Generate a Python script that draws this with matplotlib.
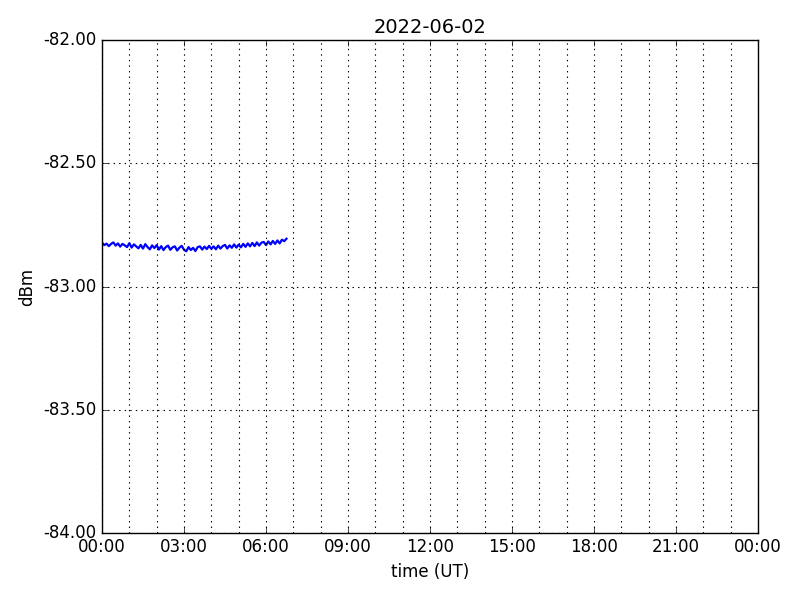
import matplotlib
matplotlib.use("Agg")
import matplotlib.pyplot as plt
import matplotlib.dates as mdates
from matplotlib.ticker import FormatStrFormatter, MultipleLocator
import datetime as dt

plt.style.use("classic")

title = "2022-06-02"
start = dt.datetime(2022, 6, 2, 0, 0)
step_minutes = 5
dbm = [
    -82.822, -82.832, -82.826, -82.836, -82.827, -82.821, -82.834, -82.825,
    -82.838, -82.827, -82.833, -82.840, -82.824, -82.842, -82.829, -82.837,
    -82.845, -82.831, -82.846, -82.828, -82.840, -82.849, -82.833, -82.844,
    -82.832, -82.850, -82.836, -82.852, -82.840, -82.834, -82.851, -82.841,
    -82.837, -82.854, -82.842, -82.835, -82.851, -82.857, -82.840, -82.852,
    -82.843, -82.856, -82.840, -82.837, -82.850, -82.838, -82.848, -82.835,
    -82.847, -82.837, -82.849, -82.834, -82.846, -82.836, -82.831, -82.846,
    -82.833, -82.843, -82.829, -82.842, -82.830, -82.841, -82.827, -82.839,
    -82.825, -82.837, -82.823, -82.836, -82.821, -82.834, -82.822, -82.819,
    -82.832, -82.817, -82.829, -82.815, -82.827, -82.813, -82.825, -82.810,
    -82.816, -82.806,
]
times = [start + dt.timedelta(minutes=step_minutes * i) for i in range(len(dbm))]

fig = plt.figure(figsize=(8, 6), dpi=100, facecolor="white")
ax = fig.add_axes([0.1275, 0.112, 0.82, 0.821])
ax.plot(times, dbm, color="blue", linewidth=1.6)

ax.set_xlim(start, start + dt.timedelta(days=1))
ax.set_ylim(-84.0, -82.0)
ax.xaxis.set_major_locator(mdates.HourLocator(byhour=range(0, 24, 3)))
ax.xaxis.set_minor_locator(mdates.HourLocator())
ax.xaxis.set_major_formatter(mdates.DateFormatter("%H:%M"))
ax.yaxis.set_major_locator(MultipleLocator(0.5))
ax.yaxis.set_major_formatter(FormatStrFormatter("%.2f"))
ax.grid(True, which="both", axis="x", color="black", linestyle=":", linewidth=0.8)
ax.grid(True, which="major", axis="y", color="black", linestyle=":", linewidth=0.8)
ax.tick_params(which="minor", length=0)

ax.set_title(title, fontsize=14)
ax.set_xlabel("time (UT)")
ax.set_ylabel("dBm")

fig.savefig("out.png", dpi=100, facecolor="white")
